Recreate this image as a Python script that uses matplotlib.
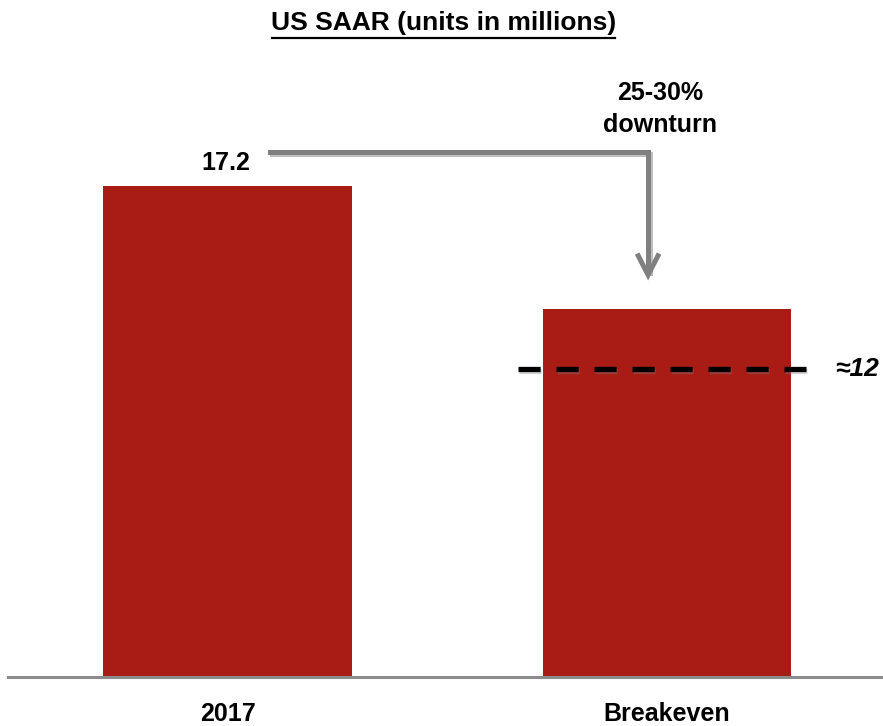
import matplotlib
matplotlib.use("Agg")
import matplotlib.pyplot as plt
import matplotlib.patheffects as pe

categories = ["2017", "Breakeven"]
values = [17.2, 12.9]
value_labels = ["17.2", ""]
breakeven_line = 10.78
breakeven_label = "≈12"
downturn_label = "25-30%\ndownturn"
title = "US SAAR (units in millions)"

FONT = ["Liberation Sans", "DejaVu Sans"]
plt.rcParams["font.family"] = FONT

fig = plt.figure(figsize=(8.83, 7.26), dpi=100)
ax = fig.add_axes([0.009, 0.0675, 0.991, 0.9325])

x = list(range(len(categories)))
ax.bar(x, values, width=0.567, color="#A81C15", zorder=2)

ax.set_xlim(-0.501, 1.492)
ax.set_ylim(0, 23.71)

for s in ["top", "right", "left"]:
    ax.spines[s].set_visible(False)
ax.spines["bottom"].set_color("#8c8c8c")
ax.spines["bottom"].set_linewidth(2.2)
ax.set_yticks([])
ax.set_xticks(x)
ax.set_xticklabels(categories, fontsize=18, fontweight="bold")
ax.tick_params(axis="x", length=0, pad=18)

# value label
ax.text(-0.005, values[0] + 0.8, value_labels[0], ha="center", va="center",
        fontsize=18, fontweight="bold")

# dashed breakeven line
shadow = [pe.SimpleLineShadow(offset=(0.8, -1.2), shadow_color="gray", alpha=0.35), pe.Normal()]
ax.plot([x[1] - 0.34, x[1] + 0.317], [breakeven_line, breakeven_line], color="black",
        lw=3.8, dashes=(4.2, 3.0), zorder=3, path_effects=shadow)
ax.text(1.383, breakeven_line, breakeven_label, ha="left", va="center",
        fontsize=19, fontweight="bold", style="italic", clip_on=False)

# downturn arrow
y_top = values[0] + 1.19
x_start = 0.096
x_turn = 0.957
y_tip = 14.08
ax.plot([x_start, x_turn, x_turn], [y_top, y_top, y_tip + 0.15], color="#808080",
        lw=3.6, solid_joinstyle="miter", zorder=3,
        path_effects=[pe.SimpleLineShadow(offset=(1.5, -1.5), alpha=0.25), pe.Normal()])
ax.plot([x_turn - 0.025, x_turn, x_turn + 0.025], [y_tip + 0.75, y_tip, y_tip + 0.75],
        color="#808080", lw=3.6, solid_joinstyle="miter", solid_capstyle="butt", zorder=3)
ax.text(0.985, 19.9, downturn_label, ha="center", va="center", fontsize=18,
        fontweight="bold", linespacing=1.45)

fig.text(0.502, 0.968, title, ha="center", va="center", fontsize=19,
         fontweight="bold")
# underline
fig.add_artist(plt.Line2D([0.308, 0.697], [0.947, 0.947], color="black", lw=1.6,
                          transform=fig.transFigure))

fig.savefig("out.png", dpi=100)
